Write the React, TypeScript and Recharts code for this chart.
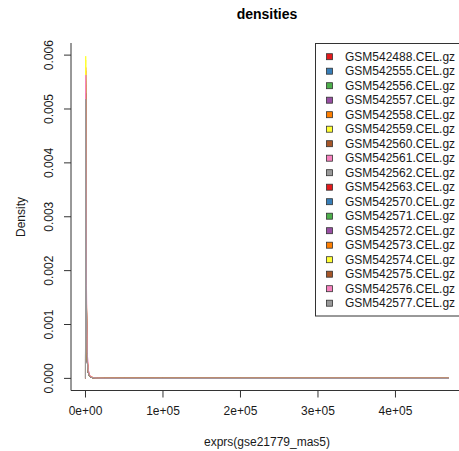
import React from 'react';
import { LineChart, Line, XAxis, YAxis, Legend } from 'recharts';

// Evaluation grid (expression values) shared by every density curve
const xs = [0, 150, 300, 600, 1000, 1600, 2400, 3500, 5000, 7000, 10000, 15000, 25000, 50000, 100000, 200000, 300000, 400000, 469000];

const samples = [
  'GSM542488.CEL.gz', 'GSM542555.CEL.gz', 'GSM542556.CEL.gz', 'GSM542557.CEL.gz',
  'GSM542558.CEL.gz', 'GSM542559.CEL.gz', 'GSM542560.CEL.gz', 'GSM542561.CEL.gz',
  'GSM542562.CEL.gz', 'GSM542563.CEL.gz', 'GSM542570.CEL.gz', 'GSM542571.CEL.gz',
  'GSM542572.CEL.gz', 'GSM542573.CEL.gz', 'GSM542574.CEL.gz', 'GSM542575.CEL.gz',
  'GSM542576.CEL.gz', 'GSM542577.CEL.gz',
];

// RColorBrewer Set1, recycled
const colors = [
  '#E41A1C', '#377EB8', '#4DAF4A', '#984EA3', '#FF7F00', '#FFFF33', '#A65628', '#F781BF', '#999999',
  '#E41A1C', '#377EB8', '#4DAF4A', '#984EA3', '#FF7F00', '#FFFF33', '#A65628', '#F781BF', '#999999',
];

const GSM542488 = [0, 0.00531, 0.00548, 0.00355, 0.00183, 0.00080, 0.00031, 0.000119, 0.000049, 0.000021, 0.0000106, 0.0000058, 0.0000029, 0.0000012, 0.0000004, 0.00000012, 0.00000005, 0.00000002, 0.00000001];
const GSM542555 = [0, 0.00518, 0.00532, 0.00347, 0.00178, 0.00078, 0.00030, 0.000115, 0.000047, 0.000020, 0.0000102, 0.0000056, 0.0000028, 0.0000011, 0.0000004, 0.00000011, 0.00000005, 0.00000002, 0.00000001];
const GSM542556 = [0, 0.00540, 0.00556, 0.00361, 0.00186, 0.00081, 0.00032, 0.000121, 0.000050, 0.000022, 0.0000108, 0.0000059, 0.0000030, 0.0000012, 0.0000004, 0.00000012, 0.00000005, 0.00000002, 0.00000001];
const GSM542557 = [0, 0.00512, 0.00527, 0.00343, 0.00176, 0.00077, 0.00030, 0.000113, 0.000046, 0.000020, 0.0000101, 0.0000055, 0.0000028, 0.0000011, 0.0000004, 0.00000011, 0.00000004, 0.00000002, 0.00000001];
const GSM542558 = [0, 0.00556, 0.00571, 0.00372, 0.00191, 0.00086, 0.00035, 0.000138, 0.000060, 0.000029, 0.0000150, 0.0000085, 0.0000045, 0.0000020, 0.0000008, 0.00000025, 0.00000010, 0.00000004, 0.00000002];
const GSM542559 = [0, 0.00583, 0.00598, 0.00389, 0.00200, 0.00088, 0.00034, 0.000131, 0.000054, 0.000024, 0.0000117, 0.0000064, 0.0000032, 0.0000013, 0.0000005, 0.00000013, 0.00000006, 0.00000002, 0.00000001];
const GSM542560 = [0, 0.00524, 0.00539, 0.00351, 0.00180, 0.00079, 0.00031, 0.000117, 0.000048, 0.000021, 0.0000104, 0.0000057, 0.0000029, 0.0000012, 0.0000004, 0.00000012, 0.00000005, 0.00000002, 0.00000001];
const GSM542561 = [0, 0.00541, 0.00560, 0.00398, 0.00226, 0.00108, 0.00045, 0.000172, 0.000068, 0.000028, 0.0000125, 0.0000064, 0.0000031, 0.0000013, 0.0000005, 0.00000013, 0.00000005, 0.00000002, 0.00000001];
const GSM542562 = [0, 0.00506, 0.00521, 0.00339, 0.00174, 0.00076, 0.00029, 0.000112, 0.000046, 0.000020, 0.0000100, 0.0000055, 0.0000027, 0.0000011, 0.0000004, 0.00000011, 0.00000004, 0.00000002, 0.00000001];
const GSM542563 = [0, 0.00530, 0.00545, 0.00354, 0.00182, 0.00080, 0.00031, 0.000118, 0.000049, 0.000021, 0.0000105, 0.0000058, 0.0000029, 0.0000012, 0.0000004, 0.00000012, 0.00000005, 0.00000002, 0.00000001];
const GSM542570 = [0, 0.00548, 0.00563, 0.00366, 0.00188, 0.00082, 0.00032, 0.000123, 0.000051, 0.000022, 0.0000110, 0.0000060, 0.0000030, 0.0000012, 0.0000004, 0.00000012, 0.00000005, 0.00000002, 0.00000001];
const GSM542571 = [0, 0.00519, 0.00534, 0.00348, 0.00179, 0.00078, 0.00030, 0.000116, 0.000047, 0.000021, 0.0000103, 0.0000056, 0.0000028, 0.0000011, 0.0000004, 0.00000011, 0.00000005, 0.00000002, 0.00000001];
const GSM542572 = [0, 0.00537, 0.00552, 0.00359, 0.00185, 0.00081, 0.00031, 0.000120, 0.000049, 0.000022, 0.0000107, 0.0000059, 0.0000029, 0.0000012, 0.0000004, 0.00000012, 0.00000005, 0.00000002, 0.00000001];
const GSM542573 = [0, 0.00562, 0.00577, 0.00375, 0.00193, 0.00087, 0.00035, 0.000140, 0.000061, 0.000030, 0.0000155, 0.0000088, 0.0000046, 0.0000021, 0.0000008, 0.00000026, 0.00000010, 0.00000004, 0.00000002];
const GSM542574 = [0, 0.00576, 0.00591, 0.00384, 0.00198, 0.00087, 0.00034, 0.000129, 0.000053, 0.000023, 0.0000115, 0.0000063, 0.0000032, 0.0000013, 0.0000005, 0.00000013, 0.00000005, 0.00000002, 0.00000001];
const GSM542575 = [0, 0.00514, 0.00529, 0.00344, 0.00177, 0.00077, 0.00030, 0.000114, 0.000047, 0.000020, 0.0000102, 0.0000056, 0.0000028, 0.0000011, 0.0000004, 0.00000011, 0.00000004, 0.00000002, 0.00000001];
const GSM542576 = [0, 0.00545, 0.00563, 0.00402, 0.00229, 0.00110, 0.00046, 0.000175, 0.000069, 0.000028, 0.0000126, 0.0000065, 0.0000031, 0.0000013, 0.0000005, 0.00000013, 0.00000005, 0.00000002, 0.00000001];
const GSM542577 = [0, 0.00503, 0.00518, 0.00337, 0.00173, 0.00076, 0.00029, 0.000111, 0.000045, 0.000020, 0.0000099, 0.0000054, 0.0000027, 0.0000011, 0.0000004, 0.00000011, 0.00000004, 0.00000002, 0.00000001];

const seriesValues = [
  GSM542488, GSM542555, GSM542556, GSM542557, GSM542558, GSM542559, GSM542560, GSM542561, GSM542562,
  GSM542563, GSM542570, GSM542571, GSM542572, GSM542573, GSM542574, GSM542575, GSM542576, GSM542577,
];

const xTicks = [0, 100000, 200000, 300000, 400000];
const yTicks = [0, 0.001, 0.002, 0.003, 0.004, 0.005, 0.006];

const data = xs.map((x, i) => {
  const row: Record<string, number> = { x };
  samples.forEach((s, j) => {
    row[s] = seriesValues[j][i];
  });
  return row;
});

const FONT = '"Liberation Sans", Arial, Helvetica, sans-serif';
const INK = '#1a1a1a';

const sci = (v: number) =>
  v.toExponential(0).replace(/e([+-])(\d)$/, 'e$10$2');

const XTick = (props: any) => {
  const { x, y, payload } = props;
  return (
    <text x={x} y={y + 15} textAnchor="middle" fontSize={12} fontFamily={FONT} fill={INK}>
      {sci(payload.value)}
    </text>
  );
};

const YTick = (props: any) => {
  const { x, y, payload } = props;
  const cx = x - 13;
  return (
    <text
      x={cx}
      y={y}
      transform={`rotate(-90, ${cx}, ${y})`}
      textAnchor="middle"
      dominantBaseline="central"
      fontSize={12}
      fontFamily={FONT}
      fill={INK}
    >
      {payload.value.toFixed(3)}
    </text>
  );
};

const LegendBox = () => (
  <svg width={150} height={274} style={{ display: 'block', overflow: 'visible' }}>
    <rect x={0.5} y={0.5} width={148} height={272.5} fill="#ffffff" stroke="#333333" strokeWidth={1} />
    {samples.map((s, i) => {
      const cy = 13.7 + i * 14.5;
      return (
        <g key={s}>
          <rect x={11.5} y={cy - 3} width={6} height={6} fill={colors[i]} stroke="#333333" strokeWidth={0.8} />
          <text x={30} y={cy} dominantBaseline="central" fontSize={12} fontFamily={FONT} fill={INK}>
            {s}
          </text>
        </g>
      );
    })}
  </svg>
);

export default function App() {
  return (
    <div style={{ position: 'fixed', left: 0, top: 0, width: 459, height: 451, overflow: 'hidden', background: '#fff' }}>
      <LineChart
        width={470}
        height={451}
        data={data}
        margin={{ top: 43, right: 6.5, bottom: 0.5, left: 0 }}
      >
        <XAxis
          dataKey="x"
          type="number"
          domain={[-18700, 487800]}
          ticks={xTicks}
          height={60}
          tickSize={7}
          tickMargin={2}
          tick={<XTick />}
          axisLine={{ stroke: '#333333' }}
          tickLine={{ stroke: '#333333' }}
          allowDataOverflow
        />
        <XAxis
          xAxisId="top"
          orientation="top"
          dataKey="x"
          type="number"
          domain={[-18700, 487800]}
          height={0}
          tick={false}
          tickLine={false}
          axisLine={{ stroke: '#333333' }}
        />
        <YAxis
          type="number"
          domain={[-0.000225, 0.006225]}
          ticks={yTicks}
          width={71}
          tickSize={7}
          tickMargin={2}
          tick={<YTick />}
          axisLine={{ stroke: '#333333' }}
          tickLine={{ stroke: '#333333' }}
          allowDataOverflow
        />
        <Legend
          layout="horizontal"
          verticalAlign="middle"
          align="center"
          content={<LegendBox />}
          wrapperStyle={{ top: 43, left: 315, width: 150, height: 274 }}
        />
        {samples.map((s, i) => (
          <Line
            key={s}
            dataKey={s}
            name={s}
            type="linear"
            stroke={colors[i]}
            strokeWidth={1}
            dot={false}
            activeDot={false}
            isAnimationActive={false}
          />
        ))}
      </LineChart>
      <svg width={459} height={451} style={{ position: 'absolute', left: 0, top: 0, pointerEvents: 'none' }}>
        <text x={267} y={19} textAnchor="middle" fontSize={14} fontWeight="bold" fontFamily={FONT} fill="#000">
          densities
        </text>
        <text x={267} y={446} textAnchor="middle" fontSize={12} fontFamily={FONT} fill={INK}>
          exprs(gse21779_mas5)
        </text>
        <text
          x={21}
          y={217}
          transform="rotate(-90, 21, 217)"
          textAnchor="middle"
          dominantBaseline="central"
          fontSize={12}
          fontFamily={FONT}
          fill={INK}
        >
          Density
        </text>
      </svg>
    </div>
  );
}
